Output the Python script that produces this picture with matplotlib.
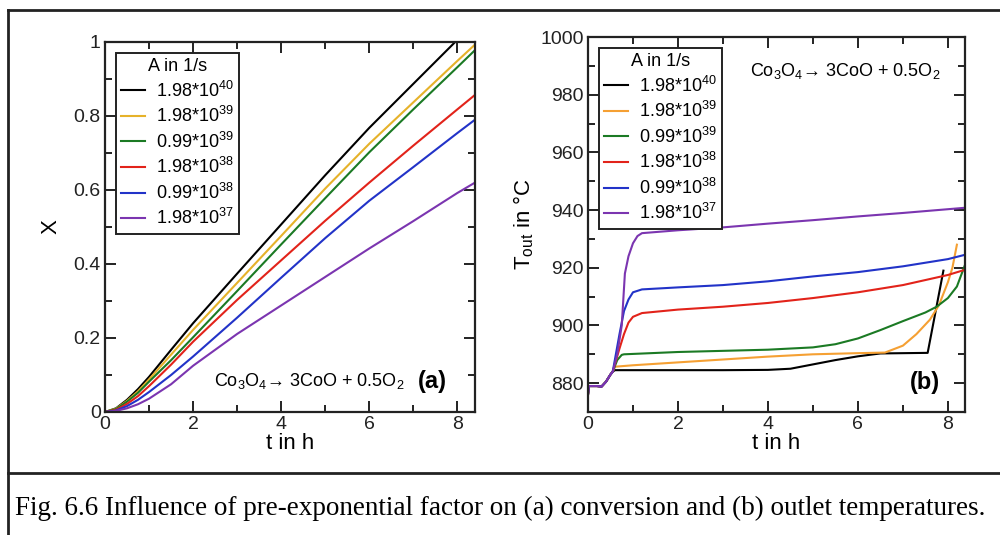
import matplotlib
matplotlib.use("Agg")
import matplotlib.pyplot as plt
from matplotlib.lines import Line2D
from matplotlib.ticker import MultipleLocator

plt.rcParams['font.family'] = ['Liberation Sans', 'DejaVu Sans']
plt.rcParams['mathtext.default'] = 'regular'

labels = ['1.98*10$^{40}$', '1.98*10$^{39}$', '0.99*10$^{39}$',
          '1.98*10$^{38}$', '0.99*10$^{38}$', '1.98*10$^{37}$']
colors_a = ['#000000', '#e6b22a', '#1b7a24', '#e2231a', '#2233c8', '#7b35b0']
colors_b = ['#000000', '#f5a033', '#1b7a24', '#e2231a', '#2233c8', '#7b35b0']

# ---- panel (a): conversion X vs t ----
t_a = [0, 0.25, 0.5, 0.75, 1, 1.5, 2, 3, 4, 5, 6, 7, 8, 8.4]
t_a_black = [0, 0.25, 0.5, 0.75, 1, 1.5, 2, 3, 4, 5, 6, 7, 7.95]
x_black = [0, 0.01, 0.033, 0.062, 0.095, 0.168, 0.24, 0.374, 0.507, 0.64, 0.768, 0.887, 1.0]
x_yellow = [0, 0.009, 0.03, 0.056, 0.088, 0.155, 0.222, 0.349, 0.476, 0.604, 0.725, 0.837, 0.949, 0.993]
x_green = [0, 0.008, 0.028, 0.052, 0.082, 0.14, 0.202, 0.327, 0.453, 0.578, 0.702, 0.818, 0.932, 0.978]
x_red = [0, 0.006, 0.022, 0.043, 0.07, 0.128, 0.19, 0.303, 0.41, 0.517, 0.62, 0.72, 0.818, 0.857]
x_blue = [0, 0.004, 0.016, 0.033, 0.054, 0.1, 0.15, 0.255, 0.363, 0.47, 0.571, 0.662, 0.754, 0.79]
t_a_purple = [0, 0.25, 0.5, 0.75, 1, 1.5, 2, 3, 4, 5, 6, 7, 8, 8.4]
x_purple = [0, 0.003, 0.01, 0.021, 0.036, 0.075, 0.125, 0.211, 0.288, 0.365, 0.442, 0.516, 0.592, 0.62]

# ---- panel (b): outlet temperature vs t ----
t_b_black = [0, 0.02, 0.05, 0.2, 0.3, 0.4, 0.5, 0.55, 0.6, 2, 3, 4, 4.5, 5, 5.5, 6, 6.5, 7.55, 7.9]
T_black = [876, 879, 879, 879, 878.8, 880.5, 883, 884, 884.5, 884.5, 884.5, 884.6, 885, 886.5, 888, 889.3, 890.3, 890.5, 919]
t_b_orange = [0, 0.02, 0.05, 0.2, 0.3, 0.4, 0.5, 0.55, 0.6, 1, 2, 3, 4, 5, 6, 6.6, 7.0, 7.3, 7.6, 7.8, 8.0, 8.1, 8.2]
T_orange = [876, 879, 879, 879, 878.8, 880.5, 883, 884, 885.7, 886.2, 887.2, 888.2, 889.2, 890, 890.4, 890.6, 893, 897, 902, 907, 915, 920, 928]
t_b_green = [0, 0.02, 0.05, 0.2, 0.3, 0.4, 0.5, 0.55, 0.65, 0.75, 0.8, 2, 3, 4, 5, 5.5, 6, 6.5, 7, 7.5, 7.75, 8.0, 8.2, 8.38]
T_green = [876, 879, 879, 879, 878.8, 880.5, 883, 884, 888, 889.8, 890, 890.8, 891.2, 891.6, 892.4, 893.5, 895.5, 898.4, 901.5, 904.5, 906.5, 909.5, 913.5, 921]
t_b_red = [0, 0.02, 0.05, 0.2, 0.3, 0.4, 0.5, 0.55, 0.7, 0.8, 0.9, 1.0, 1.2, 2, 3, 4, 5, 6, 7, 8, 8.38]
T_red = [876, 879, 879, 879, 878.8, 880.5, 883, 884, 892, 897, 901, 903, 904.3, 905.5, 906.5, 907.8, 909.5, 911.5, 914, 917.5, 919.3]
t_b_blue = [0, 0.02, 0.05, 0.2, 0.3, 0.4, 0.5, 0.55, 0.7, 0.8, 0.9, 1.0, 1.2, 2, 3, 4, 5, 6, 7, 8, 8.38]
T_blue = [876, 879, 879, 879, 878.8, 880.5, 883, 884, 897, 905, 909, 911.5, 912.5, 913.2, 914, 915.3, 917, 918.5, 920.5, 923, 924.5]
t_b_purple = [0, 0.02, 0.05, 0.2, 0.3, 0.4, 0.5, 0.55, 0.65, 0.75, 0.82, 0.9, 1.0, 1.1, 1.2, 2, 3, 4, 5, 6, 7, 8, 8.38]
T_purple = [876, 879, 879, 879, 878.8, 880.5, 883, 884, 890, 900, 918, 924, 928.5, 931, 932, 933, 934, 935.3, 936.5, 937.8, 939, 940.3, 940.8]

W, H = 1000, 535
fig = plt.figure(figsize=(W / 100, H / 100), dpi=100)

def fx(px):
    return px / W

def fy(py):
    return 1 - py / H

# frame lines
fig.add_artist(Line2D([fx(8), fx(1000)], [fy(10), fy(10)], color='#222222', lw=2))
fig.add_artist(Line2D([fx(8), fx(8)], [fy(10), fy(535)], color='#222222', lw=2))
fig.add_artist(Line2D([fx(8), fx(1000)], [fy(473), fy(473)], color='#222222', lw=2))

ax1 = fig.add_axes([fx(105), fy(412), fx(475 - 105), (412 - 42) / H])
ax2 = fig.add_axes([fx(588), fy(412), fx(965 - 588), (412 - 37) / H])

series_a = [(t_a_black, x_black), (t_a, x_yellow), (t_a, x_green), (t_a, x_red),
            (t_a, x_blue), (t_a_purple, x_purple)]
for (tt, yy), c, lab in zip(series_a, colors_a, labels):
    ax1.plot(tt, yy, color=c, lw=1.5, label=lab)

series_b = [(t_b_black, T_black), (t_b_orange, T_orange), (t_b_green, T_green),
            (t_b_red, T_red), (t_b_blue, T_blue), (t_b_purple, T_purple)]
for (tt, yy), c, lab in zip(series_b, colors_b, labels):
    ax2.plot(tt, yy, color=c, lw=1.5, label=lab)

ax1.set_xlim(0, 8.4)
ax1.set_ylim(0, 1)
ax1.xaxis.set_major_locator(MultipleLocator(2))
ax1.xaxis.set_minor_locator(MultipleLocator(1))
ax1.yaxis.set_minor_locator(MultipleLocator(0.1))
ax1.set_yticks([0, 0.2, 0.4, 0.6, 0.8, 1.0])
ax1.set_yticklabels(['0', '0.2', '0.4', '0.6', '0.8', '1'])

ax2.set_xlim(0, 8.38)
ax2.set_ylim(870, 1000)
ax2.xaxis.set_major_locator(MultipleLocator(2))
ax2.xaxis.set_minor_locator(MultipleLocator(1))
ax2.yaxis.set_minor_locator(MultipleLocator(10))
ax2.set_yticks([880, 900, 920, 940, 960, 980, 1000])

for ax in (ax1, ax2):
    for s in ax.spines.values():
        s.set_linewidth(1.6)
        s.set_color('#222222')
    ax.tick_params(which='both', direction='in', top=True, right=True,
                   labelsize=14, colors='#222222', width=1.4)
    ax.tick_params(which='major', length=8, pad=3)
    ax.tick_params(which='minor', length=5)
    ax.set_xlabel('t in h', fontsize=16, labelpad=0)
    leg = ax.legend(title='A in 1/s', loc='upper left', fontsize=13,
                    title_fontsize=13, frameon=True, fancybox=False,
                    edgecolor='#222222', framealpha=1, handlelength=1.3,
                    handletextpad=0.6, labelspacing=0.3, borderpad=0.3,
                    borderaxespad=0.6)
    leg.get_frame().set_linewidth(1.4)

ax1.set_ylabel('X', fontsize=16, labelpad=9)
ax2.set_ylabel('T$_{out}$ in °C', fontsize=16, labelpad=3)

ax1.text(0.295, 0.085, 'Co$_3$O$_4$\u2192 3CoO + 0.5O$_2$', transform=ax1.transAxes,
         fontsize=13, ha='left', va='center')
ax1.text(0.845, 0.083, '(a)', transform=ax1.transAxes, fontsize=17,
         fontweight='bold', ha='left', va='center')
ax2.text(0.43, 0.91, 'Co$_3$O$_4$\u2192 3CoO + 0.5O$_2$', transform=ax2.transAxes,
         fontsize=13, ha='left', va='center')
ax2.text(0.855, 0.08, '(b)', transform=ax2.transAxes, fontsize=17,
         fontweight='bold', ha='left', va='center')

fig.text(0.5, fy(508), 'Fig. 6.6 Influence of pre-exponential factor on (a) conversion and (b) outlet temperatures.',
         family=['Liberation Serif', 'DejaVu Serif'], fontsize=19.5, ha='center', va='center')

fig.savefig('out.png', dpi=100)
